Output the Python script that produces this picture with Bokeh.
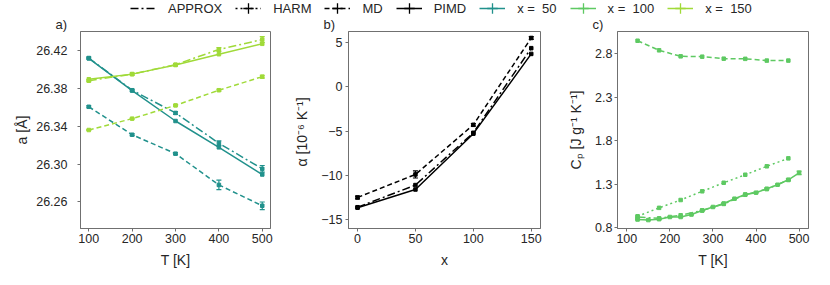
from bokeh.plotting import figure
from bokeh.models import (ColumnDataSource, Whisker, TeeHead, Range1d, FixedTicker,
                          Legend, LegendItem, PrintfTickFormatter)
from bokeh.layouts import column, row
from bokeh.embed import file_html
from bokeh.resources import INLINE

# ---------------- data ----------------
# panel a: lattice parameter a [Å] vs T
T_a = [100, 200, 300, 400, 500]
a_x50_approx = [26.412, 26.378, 26.354, 26.322, 26.295]
a_x50_approx_err = [0.001, 0.001, 0.0015, 0.0025, 0.0035]
a_x50_md = [26.3605, 26.331, 26.311, 26.278, 26.256]
a_x50_md_err = [0.001, 0.001, 0.001, 0.005, 0.004]
a_x50_pimd = [26.4116, 26.3776, 26.3455, 26.3177, 26.289]
a_x150_approx = [26.388, 26.395, 26.405, 26.421, 26.4315]
a_x150_approx_err = [0.001, 0.001, 0.001, 0.002, 0.003]
a_x150_md = [26.336, 26.348, 26.362, 26.378, 26.3923]
a_x150_md_err = [0.0005, 0.0005, 0.0008, 0.001, 0.0015]
a_x150_pimd = [26.3896, 26.395, 26.4046, 26.416, 26.427]

# panel b: thermal expansion alpha vs x
x_b = [0, 50, 100, 150]
alpha_approx = [-13.6, -11.1, -5.2, 4.35]
alpha_md = [-12.5, -9.9, -4.3, 5.5]
alpha_md_err = [0.15, 0.4, 0.15, 0.15]
alpha_pimd = [-13.65, -11.6, -5.3, 3.7]

# panel c: heat capacity Cp vs T (x = 100)
T_c = [125, 175, 225, 275, 325, 375, 425, 475]
cp_md = [2.948, 2.838, 2.769, 2.765, 2.742, 2.74, 2.72, 2.72]
cp_harm = [0.933, 1.03, 1.12, 1.22, 1.318, 1.41, 1.507, 1.598]
cp_approx = [0.925, 0.91, 0.945, 1.0, 1.075, 1.18, 1.245, 1.35]
T_c_pimd = [125, 150, 175, 200, 225, 250, 275, 300, 325, 350, 375, 400, 425, 450, 475, 500]
cp_pimd = [0.896, 0.89, 0.9, 0.925, 0.925, 0.953, 1.0, 1.04, 1.08, 1.135, 1.184, 1.204,
           1.249, 1.295, 1.352, 1.432]
cp_pimd_err = [0.005, 0.005, 0.005, 0.005, 0.005, 0.005, 0.005, 0.005, 0.005, 0.005,
               0.005, 0.006, 0.007, 0.008, 0.01, 0.02]

legend_labels = ["APPROX", "HARM", "MD", "PIMD",
                 "x =\u00a0\u00a050", "x =\u00a0\u00a0100", "x =\u00a0\u00a0150"]
panel_tags = ["a)", "b)", "c)"]

# ---------------- style ----------------
FONT = "Liberation Sans"
TEXT = "#262626"
FRAME = "#707070"
C50 = "#21918c"
C100 = "#5ec962"
C150 = "#a0da39"
DASH = "5 3"
DOT = "2 3"
DASHDOT = "8 3 2 3"
LW = 1.5
MS = 3.5
STRIP_H = 14


def make_fig(width, xr, yr, xticks, yticks, xlabel, ylabel, bl, br,
             ylab_standoff, yaxis_standoff, tag, yfmt=None):
    p = figure(width=width, height=271, x_range=Range1d(*xr), y_range=Range1d(*yr),
               output_backend="svg", toolbar_location=None,
               min_border_left=bl, min_border_right=br,
               min_border_top=16, min_border_bottom=57)
    p.title.text = tag
    p.title.align = "left"
    p.title.offset = -25
    p.title.standoff = 0
    p.title.text_font = FONT
    p.title.text_font_size = "13px"
    p.title.text_font_style = "normal"
    p.title.text_color = TEXT
    p.xgrid.visible = False
    p.ygrid.visible = False
    p.outline_line_color = FRAME
    p.outline_line_width = 1
    p.background_fill_color = "white"
    for ax in (p.xaxis[0], p.yaxis[0]):
        ax.axis_line_color = FRAME
        ax.major_tick_line_color = FRAME
        ax.major_tick_out = 3
        ax.major_tick_in = 0
        ax.minor_tick_line_color = None
        ax.major_label_text_font = FONT
        ax.major_label_text_font_size = "12.5px"
        ax.major_label_text_color = TEXT
        ax.axis_label_text_font = FONT
        ax.axis_label_text_font_size = "14px"
        ax.axis_label_text_font_style = "normal"
        ax.axis_label_text_color = TEXT
    p.xaxis.ticker = FixedTicker(ticks=xticks)
    p.yaxis.ticker = FixedTicker(ticks=yticks)
    if yfmt:
        p.yaxis.formatter = PrintfTickFormatter(format=yfmt)
    p.xaxis.axis_label = xlabel
    p.yaxis.axis_label = ylabel
    p.xaxis.major_label_standoff = 2
    p.xaxis.axis_label_standoff = 6
    p.yaxis.major_label_standoff = ylab_standoff
    p.yaxis.axis_label_standoff = yaxis_standoff
    return p


def series(p, x, y, color, dash, err=None):
    src = ColumnDataSource(dict(x=x, y=y))
    p.line("x", "y", source=src, line_color=color, line_width=LW, line_dash=dash)
    p.scatter("x", "y", source=src, marker="square", size=MS, color=color)
    if err is not None:
        esrc = ColumnDataSource(dict(x=x, lo=[v - e for v, e in zip(y, err)],
                                     hi=[v + e for v, e in zip(y, err)]))
        w = Whisker(base="x", lower="lo", upper="hi", source=esrc, dimension="height",
                    line_color=color, line_width=1.2,
                    upper_head=TeeHead(size=5, line_color=color, line_width=1.2),
                    lower_head=TeeHead(size=5, line_color=color, line_width=1.2))
        p.add_layout(w)


# ---------------- panel a ----------------
pa = make_fig(280, (80.9, 519), (26.232, 26.440), [100, 200, 300, 400, 500],
              [26.26, 26.30, 26.34, 26.38, 26.42], "T [K]", "a [Å]", 80, 10, 10, 3,
              panel_tags[0], "%.2f")
series(pa, T_a, a_x50_md, C50, DASH, a_x50_md_err)
series(pa, T_a, a_x50_approx, C50, DASHDOT, a_x50_approx_err)
series(pa, T_a, a_x50_pimd, C50, "solid")
series(pa, T_a, a_x150_md, C150, DASH, a_x150_md_err)
series(pa, T_a, a_x150_approx, C150, DASHDOT, a_x150_approx_err)
series(pa, T_a, a_x150_pimd, C150, "solid")

# ---------------- panel b ----------------
pb = make_fig(270, (-7.8, 158), (-16.0, 6.23), [0, 50, 100, 150], [-15, -10, -5, 0, 5],
              "x", "α  [10⁻⁶ K⁻¹]", 68, 10, 3, 8, panel_tags[1])
pb.yaxis.major_label_overrides = {-15: "−15", -10: "−10", -5: "−5"}
series(pb, x_b, alpha_md, "black", DASH, alpha_md_err)
series(pb, x_b, alpha_approx, "black", DASHDOT)
series(pb, x_b, alpha_pimd, "black", "solid")

# ---------------- panel c ----------------
pc = make_fig(280, (78.4, 521.8), (0.793, 3.054), [100, 200, 300, 400, 500],
              [0.8, 1.3, 1.8, 2.3, 2.8], "T [K]", "Cₚ [J g⁻¹ K⁻¹]", 67, 22, 2, 8,
              panel_tags[2], "%.1f")
series(pc, T_c, cp_md, C100, DASH)
series(pc, T_c, cp_harm, C100, DOT)
series(pc, T_c, cp_approx, C100, DASHDOT)
series(pc, T_c_pimd, cp_pimd, C100, "solid", cp_pimd_err)

# ---------------- legend strip (frame = whole strip) ----------------
lf = figure(width=830, height=STRIP_H, output_backend="svg", toolbar_location=None,
            x_range=Range1d(0, 1), y_range=Range1d(0, 1),
            x_axis_location=None, y_axis_location=None,
            min_border_left=0, min_border_right=0, min_border_top=0, min_border_bottom=0)
lf.xgrid.visible = False
lf.ygrid.visible = False
lf.outline_line_color = None

leg_styles = [("black", DASHDOT, None), ("black", DOT, "cross"), ("black", DASH, "cross"),
              ("black", "solid", "cross"), (C50, "solid", "cross"), (C100, "solid", "cross"),
              (C150, "solid", "cross")]
# legend proxies: a single point placed outside the strip's visible range
proxy = ColumnDataSource(dict(x=[-5.0], y=[-5.0]))
items = []
for lab, (col, dash, mk) in zip(legend_labels, leg_styles):
    rends = [lf.line("x", "y", source=proxy, line_color=col, line_dash=dash, line_width=LW)]
    if mk:
        rends.append(lf.scatter("x", "y", source=proxy, marker=mk, size=10,
                                line_color=col, line_width=1.3))
    items.append(LegendItem(label=lab, renderers=rends))

legend = Legend(items=items, orientation="horizontal", location=(130, -7),
                glyph_width=26, glyph_height=26, label_height=14, label_standoff=12,
                spacing=13, padding=0, margin=0, border_line_color=None,
                background_fill_alpha=0, label_text_font=FONT,
                label_text_font_size="13px", label_text_color=TEXT)
lf.add_layout(legend)

layout = column(lf, row(pa, pb, pc, spacing=0), spacing=0)
open("out.html", "w").write(file_html(layout, INLINE))
